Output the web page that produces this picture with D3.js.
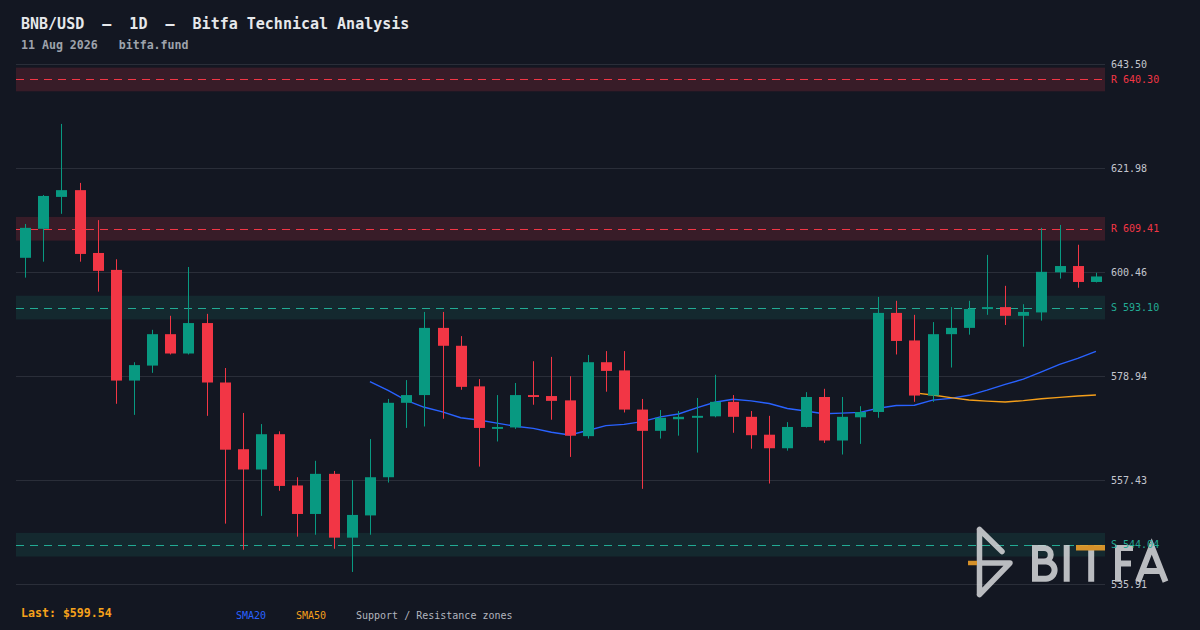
<!DOCTYPE html>
<html><head><meta charset="utf-8">
<script src="https://cdn.jsdelivr.net/npm/d3@7"></script>
<style>html,body{margin:0;padding:0;background:#131722;}svg{display:block}</style>
</head><body><div id="chart"></div>
<script>
// ---- data ----
const days = d3.range(1, 61); // 60 daily candles ending 11 Aug 2026
const opens = [603.4,609.4,616.0,617.4,604.4,600.9,578.0,581.1,587.6,583.6,
  589.9,577.6,563.8,559.6,566.9,556.3,550.4,558.7,545.5,550.1,
  558.0,573.4,575.0,588.9,585.2,576.8,568.0,568.3,575.0,574.8,
  573.9,566.5,581.8,580.1,572.0,567.6,570.0,570.3,570.6,573.6,
  570.5,566.8,564.0,568.4,574.6,565.6,570.4,571.5,592.0,586.3,
  574.9,587.6,588.9,592.8,593.2,591.4,592.1,600.4,601.7,598.4];
const highs = [610.4,616.4,631.1,618.9,611.2,603.1,581.8,588.5,591.4,601.5,
  591.8,580.6,571.3,569.0,567.5,558.0,561.4,559.3,557.4,565.9,
  574.2,578.1,592.2,592.2,587.2,578.3,575.0,577.5,582.0,582.9,
  578.9,583.3,584.1,584.1,574.2,571.9,571.7,574.4,579.2,575.0,
  571.7,570.7,569.4,575.6,576.3,574.6,572.7,595.3,594.5,591.6,
  590.1,593.2,594.5,604.0,597.6,593.8,609.6,610.2,606.1,600.3];
const lows = [599.3,602.6,612.5,602.6,596.4,573.2,570.9,579.6,583.4,583.4,
  570.7,548.4,543.0,550.0,555.2,545.7,546.1,543.2,538.4,546.1,
  556.9,568.2,568.5,570.1,576.1,560.2,565.4,568.0,573.0,569.9,
  562.2,566.0,575.7,571.4,555.6,566.0,566.6,563.1,570.4,567.2,
  563.9,556.7,563.5,568.3,565.1,562.7,564.9,570.3,583.4,573.6,
  573.6,580.7,587.5,591.6,589.5,585.0,590.4,599.1,597.2,598.3];
const closes = [609.6,616.2,617.4,604.2,600.7,578.0,581.2,587.6,583.6,589.9,
  577.6,563.7,559.6,566.9,556.2,550.4,558.7,545.5,550.2,558.0,
  573.4,575.0,588.9,585.2,576.7,568.2,568.4,575.0,574.6,573.8,
  566.6,581.8,580.0,572.0,567.6,570.3,570.5,570.7,573.6,570.5,
  566.7,564.0,568.4,574.6,565.6,570.5,571.5,592.0,586.2,574.9,
  587.6,588.9,592.8,593.2,591.4,592.2,600.5,601.7,598.4,599.54];
const sma20Start = 19;
const sma20 = [577.76,575.95,573.89,572.47,571.52,570.32,569.83,569.19,568.56,568.11,
  567.30,566.75,567.66,568.68,568.93,569.50,570.50,571.09,572.35,573.52,
  574.14,573.81,573.26,572.23,571.70,571.15,571.26,571.42,572.27,572.85,
  572.90,573.95,574.31,574.95,576.01,577.20,578.29,579.79,581.34,582.58,584.03];
const sma50Start = 49;
const sma50 = [575.45,575.01,574.46,573.97,573.75,573.56,573.85,574.23,574.52,574.81,575.00];
const zoneLevels = [640.30, 609.41, 593.10, 544.04];
const zoneKinds = ["R", "R", "S", "S"];
const zoneHalf = 2.45;
const tickValues = [643.50, 621.98, 600.46, 578.94, 557.43, 535.91];
const tickLabels = ["643.50", "621.98", "600.46", "578.94", "557.43", "535.91"];
const titleText = "BNB/USD  \u2013  1D  \u2013  Bitfa Technical Analysis";
const subtitleText = "11 Aug 2026   bitfa.fund";
const lastText = "Last: $599.54";
const legendItems = ["SMA20", "SMA50", "Support / Resistance zones"];

// ---- drawing ----
const W = 1200, H = 630;
const MONO = "'DejaVu Sans Mono', 'Liberation Mono', monospace";
const C = {bg:"#131722", grid:"#2a2e39", up:"#089981", down:"#f23645",
  res:"#f23645", sup:"#22ab94", sma20:"#2962ff", sma50:"#f59f1a", tick:"#c3c6ce"};

const svg = d3.select("#chart").append("svg").attr("width", W).attr("height", H);
svg.append("rect").attr("width", W).attr("height", H).attr("fill", C.bg);

const L = 16, R = 1105;
const x = d3.scaleBand().domain(d3.range(days.length)).range([L, R]).paddingInner(0.4).paddingOuter(0.2);
const y = d3.scaleLinear().domain([535.91, 643.50]).range([584, 64]);
const cx = i => x(i) + x.bandwidth() / 2;

// zones
const zones = zoneLevels.map((v, i) => ({v, k: zoneKinds[i]}));
svg.append("g").selectAll("rect").data(zones).join("rect")
  .attr("x", L).attr("width", R - L)
  .attr("y", d => y(d.v + zoneHalf)).attr("height", d => y(d.v - zoneHalf) - y(d.v + zoneHalf))
  .attr("fill", d => d.k === "R" ? C.res : C.sup)
  .attr("fill-opacity", d => d.k === "R" ? 0.17 : 0.12);

// grid
const yAxis = d3.axisRight(y).tickValues(tickValues).tickSize(R - L)
  .tickFormat((d, i) => tickLabels[i]);
const ga = svg.append("g").attr("transform", `translate(${L},0)`).call(yAxis);
ga.select(".domain").remove();
ga.selectAll(".tick line").attr("stroke", C.grid).attr("stroke-width", 1)
  .attr("shape-rendering", "crispEdges");
ga.selectAll(".tick text").attr("x", R - L + 6).attr("dy", "0.35em")
  .attr("fill", C.tick).style("font-family", MONO).style("font-size", "10px");

// zone dashed lines & labels
svg.append("g").selectAll("line").data(zones).join("line")
  .attr("x1", L).attr("x2", R)
  .attr("y1", d => Math.round(y(d.v)) + 0.5).attr("y2", d => Math.round(y(d.v)) + 0.5)
  .attr("stroke", d => d.k === "R" ? C.res : C.sup).attr("stroke-width", 1)
  .attr("stroke-dasharray", "8,6");

// SMA lines
const line = d3.line().x(d => cx(d.i)).y(d => y(d.v)).curve(d3.curveLinear);
svg.append("path").datum(sma20.map((v, j) => ({i: j + sma20Start, v})))
  .attr("d", line).attr("fill", "none").attr("stroke", C.sma20).attr("stroke-width", 1.4);
svg.append("path").datum(sma50.map((v, j) => ({i: j + sma50Start, v})))
  .attr("d", line).attr("fill", "none").attr("stroke", C.sma50).attr("stroke-width", 1.4);

// candles
const candles = days.map((d, i) => ({i, o: opens[i], h: highs[i], l: lows[i], c: closes[i]}));
const cg = svg.append("g").selectAll("g").data(candles).join("g");
cg.append("line")
  .attr("x1", d => Math.round(cx(d.i)) + 0.5).attr("x2", d => Math.round(cx(d.i)) + 0.5)
  .attr("y1", d => y(d.h)).attr("y2", d => y(d.l))
  .attr("stroke", d => d.c >= d.o ? C.up : C.down).attr("stroke-width", 1);
cg.append("rect")
  .attr("x", d => Math.round(cx(d.i)) + 0.5 - 5.5).attr("width", 11)
  .attr("y", d => y(Math.max(d.o, d.c)))
  .attr("height", d => Math.max(1.5, y(Math.min(d.o, d.c)) - y(Math.max(d.o, d.c))))
  .attr("fill", d => d.c >= d.o ? C.up : C.down);

// watermark logo
const lg = svg.append("g").attr("opacity", 0.88);
const gray = "#d2d3d6";
lg.append("path").attr("d", "M979.5,529.5 V594.5 M979.5,529.5 L1002,551.5 M979.5,563 H1010 L979.5,594.5")
  .attr("fill", "none").attr("stroke", gray).attr("stroke-width", 5.5)
  .attr("stroke-linecap", "round").attr("stroke-linejoin", "round");
lg.append("line").attr("x1", 968).attr("x2", 977).attr("y1", 563).attr("y2", 563)
  .attr("stroke", "#f0a12a").attr("stroke-width", 4.5);
// letters B I T F A
lg.append("path").attr("d",
  "M1035,548 V578.7 M1032,548 H1044 A6.5,6.5 0 0 1 1044,561.5 H1035 M1035,561.5 H1046 A8.6,8.6 0 0 1 1046,578.7 H1032" +
  " M1066.7,545 V581.7" +
  " M1091.2,550 V581.7" +
  " M1118,545 V581.7 M1115,548 H1133 M1118,563.5 H1131" +
  " M1138,581.7 L1151.7,546.5 L1165.5,581.7 M1143,571 H1160.5")
  .attr("fill", "none").attr("stroke", gray).attr("stroke-width", 6);
lg.append("rect").attr("x", 1076).attr("y", 545).attr("width", 29).attr("height", 5.5).attr("fill", "#f0a12a");

// zone labels (on top)
svg.append("g").selectAll("text").data(zones).join("text")
  .attr("x", R + 6).attr("y", d => y(d.v)).attr("dy", "0.35em")
  .attr("fill", d => d.k === "R" ? C.res : C.sup)
  .style("font-family", MONO).style("font-size", "10px")
  .text(d => `${d.k} ${d.v.toFixed(2)}`);

// header
svg.append("text").attr("x", 21).attr("y", 29).text(titleText)
  .style("white-space", "pre").attr("fill", "#e6e8eb")
  .style("font-family", MONO).style("font-size", "15px").style("font-weight", "bold");
svg.append("text").attr("x", 21).attr("y", 49).text(subtitleText)
  .style("white-space", "pre").attr("fill", "#9ea3ac")
  .style("font-family", MONO).style("font-size", "11.6px").style("font-weight", "bold");

// footer
svg.append("text").attr("x", 21).attr("y", 617.3).text(lastText)
  .attr("fill", "#f7a21b").style("font-family", MONO).style("font-size", "11.6px").style("font-weight", "bold");
const legX = [236, 296, 356];
const legC = [C.sma20, C.sma50, "#b2b5be"];
svg.append("g").selectAll("text").data(legendItems).join("text")
  .attr("x", (d, i) => legX[i]).attr("y", 618.5).text(d => d)
  .attr("fill", (d, i) => legC[i]).style("white-space", "pre")
  .style("font-family", MONO).style("font-size", "10px");
</script>
</body></html>
